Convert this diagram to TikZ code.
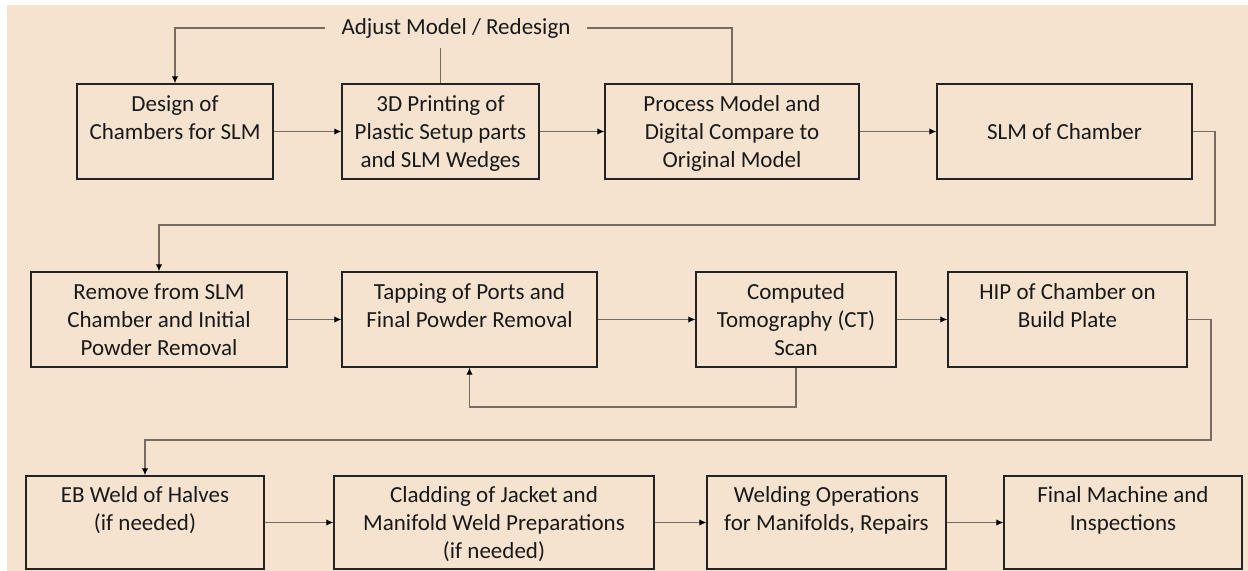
\documentclass[tikz,border=0pt]{standalone}
\usepackage{fontspec}
\setmainfont{Carlito}
\usetikzlibrary{positioning, arrows.meta}
\definecolor{bgbeige}{RGB}{245,227,207}
\definecolor{linegray}{RGB}{118,108,98}
\definecolor{boxline}{RGB}{35,35,35}
\newcommand{\boxtext}[3]{\raisebox{-1.6pt}[\height][\depth]{\begin{tabular}{@{}c@{}}#1\strut\\#2\strut\\#3\strut\end{tabular}}}
\tikzset{
    base/.style={draw=boxline, line width=0.8pt, fill=bgbeige, align=center, inner sep=0pt, font=\fontsize{13.1}{15.9}\selectfont, text=black!90},
    stage/.style={base, rectangle, minimum height=1.9cm},
    arrow/.style={-{Latex[length=4pt, width=3.6pt, color=black]}, line width=0.6pt, draw=linegray},
    line/.style={draw=linegray, line width=0.6pt}
}

\begin{document}
\begin{tikzpicture}[x=0.02cm, y=-0.02cm]
    % Canvas
    \useasboundingbox (0,0) rectangle (1248,571);
    \fill[white] (0,0) rectangle (1248,571);
    \fill[bgbeige] (7,5) rectangle (1248,571);

    % Row 1: design loop
    \node[stage, minimum width=3.92cm] (design) at (175,131.5) {\boxtext{Design of}{Chambers for SLM}{}};
    \node[stage, minimum width=3.94cm] (print) at (440.5,131.5) {\boxtext{3D Printing of}{Plastic Setup parts}{and SLM Wedges}};
    \node[stage, minimum width=5.08cm] (process) at (732,131.5) {\boxtext{Process Model and}{Digital Compare to}{Original Model}};
    \node[stage, minimum width=5.10cm] (slm) at (1064.5,131.5) {\boxtext{}{SLM of Chamber}{}};

    % Row 2: post processing
    \node[stage, minimum width=5.12cm] (remove) at (159,319.5) {\boxtext{Remove from SLM}{Chamber and Initial}{Powder Removal}};
    \node[stage, minimum width=5.10cm] (tapping) at (469.5,319.5) {\boxtext{Tapping of Ports and}{Final Powder Removal}{}};
    \node[stage, minimum width=4.00cm] (ct) at (796,319.5) {\boxtext{Computed}{Tomography (CT)}{Scan}};
    \node[stage, minimum width=4.78cm] (hip) at (1067.5,319.5) {\boxtext{HIP of Chamber on}{Build Plate}{}};

    % Row 3: welding and finishing
    \node[stage, minimum width=4.76cm, minimum height=1.86cm] (ebweld) at (145,522.5) {\boxtext{EB Weld of Halves}{(if needed)}{}};
    \node[stage, minimum width=6.40cm, minimum height=1.86cm] (cladding) at (494,522.5) {\boxtext{Cladding of Jacket and}{Manifold Weld Preparations}{(if needed)}};
    \node[stage, minimum width=4.78cm, minimum height=1.86cm] (weldops) at (826.5,522.5) {\boxtext{Welding Operations}{for Manifolds, Repairs}{}};
    \node[stage, minimum width=4.76cm, minimum height=1.86cm] (final) at (1123,522.5) {\boxtext{Final Machine and}{Inspections}{}};

    % Feedback label
    \node[font=\fontsize{13.1}{15.9}\selectfont, text=black!90, inner xsep=0.32cm, inner ysep=0.2cm] (redesign) at (456,28) {Adjust Model / Redesign};

    % Turning points
    \coordinate (turnA) at (1215,225);
    \coordinate (turnB) at (1211,440);
    \coordinate (ctloop) at (796,407);

    % Flow row 1
    \draw[arrow] (design) -- (print);
    \draw[arrow] (print) -- (process);
    \draw[arrow] (process) -- (slm);
    \draw[arrow] (slm.east) -| (turnA) -| (remove.north);

    % Flow row 2
    \draw[arrow] (remove) -- (tapping);
    \draw[arrow] (tapping) -- (ct);
    \draw[arrow] (ct) -- (hip);
    \draw[arrow] (ct.south) -- (ctloop) -| (tapping.south);
    \draw[arrow] (hip.east) -| (turnB) -| (ebweld.north);

    % Flow row 3
    \draw[arrow] (ebweld) -- (cladding);
    \draw[arrow] (cladding) -- (weldops);
    \draw[arrow] (weldops) -- (final);

    % Redesign feedback
    \draw[arrow] (redesign.west) -| (design.north);
    \draw[line] (redesign.east) -| (process.north);
    \draw[line] (print.north) -- (print.north |- redesign.south);
\end{tikzpicture}
\end{document}
